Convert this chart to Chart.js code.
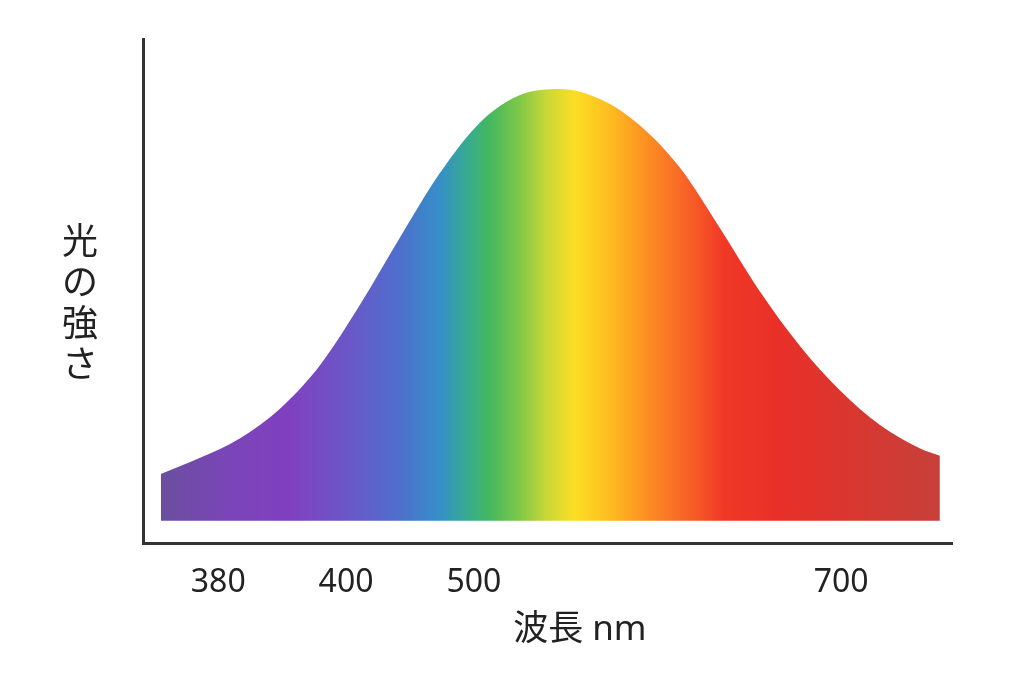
<!DOCTYPE html>
<html>
<head>
<meta charset="utf-8">
<script src="https://cdn.jsdelivr.net/npm/chart.js@4"></script>
<style>
  html, body { margin: 0; padding: 0; background: #ffffff; }
  #wrap { width: 1024px; height: 683px; position: relative; }
</style>
</head>
<body>
<div id="wrap"><canvas id="c" width="1024" height="683"></canvas></div>
<script>
// ---- data (axis units: x position 0..100 along the axis, y intensity 0..100) ----
const curveX = [2.2, 7.05, 12.0, 16.9, 21.9, 26.8, 31.8, 36.7, 41.7, 46.6, 51.5, 56.5, 61.4, 66.4, 71.3, 76.3, 81.2, 86.2, 91.1, 96.0, 98.5];
const curveY = [13.7, 16.9, 20.8, 26.6, 35.3, 47.2, 60.7, 73.4, 83.5, 88.9, 90.1, 88.1, 82.9, 74.4, 62.5, 49.8, 39.1, 30.2, 23.4, 18.8, 17.3];
const baseline = 4.4;
const tickPositions = [9.3, 25.1, 40.9, 86.3];
const tickLabels = ['380', '400', '500', '700'];
const xTitle = '波長 nm';
const yTitleChars = ['光', 'の', '強', 'さ'];
// spectrum colour stops (position along x axis, colour)
const stopPos = [2.2, 10.8, 18.2, 25.6, 31.8, 36.7, 40.4, 42.9, 46.6, 49.7, 53.3, 57.1, 61.4, 66.4, 71.9, 78.7, 98.5];
const stopCol = ['#6a4f9e', '#7a45b8', '#8040c0', '#6a58c8', '#4e6fcd', '#3590c8', '#38ad8a', '#45b85e', '#80c848', '#c5d838', '#fbdf24', '#fdc220', '#fd9722', '#f86a26', '#f03826', '#e83028', '#c6403a'];

const points = curveX.map((x, i) => ({ x: x, y: curveY[i] }));
const fontFam = '"Noto Sans", "Noto Sans CJK JP", sans-serif';

function spectrum(ctx) {
  const chart = ctx.chart;
  if (!chart.chartArea) return '#8040c0';
  const xs = chart.scales.x;
  const x0 = xs.getPixelForValue(stopPos[0]);
  const x1 = xs.getPixelForValue(stopPos[stopPos.length - 1]);
  const g = chart.ctx.createLinearGradient(x0, 0, x1, 0);
  stopPos.forEach((p, i) => {
    g.addColorStop((p - stopPos[0]) / (stopPos[stopPos.length - 1] - stopPos[0]), stopCol[i]);
  });
  return g;
}

const titlePlugin = {
  id: 'axisTitles',
  afterDraw(chart) {
    const c = chart.ctx;
    const xs = chart.scales.x, ys = chart.scales.y;
    c.save();
    c.fillStyle = '#222222';
    c.textAlign = 'center';
    c.textBaseline = 'middle';
    c.font = '35px ' + fontFam;
    c.fillText(xTitle, xs.getPixelForValue(54), 630);
    c.font = '36px ' + fontFam;
    const cx = 80;
    const startY = ys.getPixelForValue(59.3);
    yTitleChars.forEach((ch, i) => c.fillText(ch, cx, startY + i * 41));
    c.restore();
  }
};

new Chart(document.getElementById('c'), {
  type: 'line',
  data: {
    datasets: [{
      data: points,
      parsing: false,
      borderWidth: 0,
      borderColor: 'rgba(0,0,0,0)',
      pointRadius: 0,
      cubicInterpolationMode: 'monotone',
      fill: { value: baseline },
      backgroundColor: spectrum
    }]
  },
  options: {
    responsive: false,
    animation: false,
    events: [],
    layout: { padding: { left: 143, right: 72, top: 39, bottom: 0 } },
    plugins: { legend: { display: false }, tooltip: { enabled: false }, title: { display: false } },
    scales: {
      x: {
        type: 'linear', min: 0, max: 100,
        grid: { display: false, drawTicks: false },
        border: { display: true, color: '#333333', width: 3 },
        afterBuildTicks: (s) => { s.ticks = tickPositions.map(v => ({ value: v })); },
        afterFit: (s) => { s.height = 140; },
        ticks: {
          autoSkip: false, maxRotation: 0, padding: 21,
          color: '#222222',
          font: { size: 32, family: fontFam },
          callback: (v, i) => tickLabels[i]
        }
      },
      y: {
        type: 'linear', min: 0, max: 100,
        grid: { display: false, drawTicks: false },
        border: { display: true, color: '#333333', width: 3 },
        afterFit: (s) => { s.width = 0; },
        ticks: { display: false }
      }
    }
  },
  plugins: [titlePlugin]
});
</script>
</body>
</html>
